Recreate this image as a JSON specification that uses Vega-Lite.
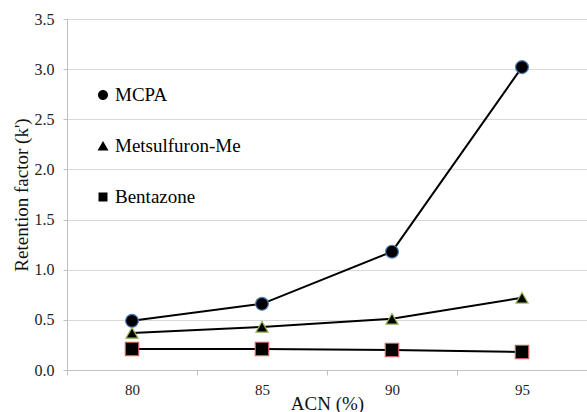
{
  "$schema": "https://vega.github.io/schema/vega-lite/v6.json",
  "width": 520,
  "height": 351,
  "autosize": {"type": "none"},
  "padding": {"left": 67, "top": 19, "right": 0, "bottom": 42},
  "background": "white",
  "config": {
    "view": {"stroke": null},
    "font": "'Times New Roman', 'Liberation Serif', serif"
  },
  "data": {
    "values": [
      {"acn": "80", "compound": "MCPA", "k": 0.49},
      {"acn": "85", "compound": "MCPA", "k": 0.66},
      {"acn": "90", "compound": "MCPA", "k": 1.18},
      {"acn": "95", "compound": "MCPA", "k": 3.02},
      {"acn": "80", "compound": "Metsulfuron-Me", "k": 0.37},
      {"acn": "85", "compound": "Metsulfuron-Me", "k": 0.43},
      {"acn": "90", "compound": "Metsulfuron-Me", "k": 0.51},
      {"acn": "95", "compound": "Metsulfuron-Me", "k": 0.72},
      {"acn": "80", "compound": "Bentazone", "k": 0.21},
      {"acn": "85", "compound": "Bentazone", "k": 0.21},
      {"acn": "90", "compound": "Bentazone", "k": 0.2},
      {"acn": "95", "compound": "Bentazone", "k": 0.18}
    ]
  },
  "encoding": {
    "x": {
      "field": "acn",
      "type": "ordinal",
      "scale": {"type": "band", "paddingInner": 0, "paddingOuter": 0},
      "axis": {
        "title": "ACN (%)",
        "labelAngle": 0,
        "tickBand": "extent",
        "grid": false,
        "domainColor": "#bfbfbf",
        "tickColor": "#bfbfbf",
        "tickSize": 5,
        "labelFontSize": 15,
        "labelColor": "#222222",
        "labelPadding": 7,
        "titleFontSize": 19,
        "titleFontWeight": "normal",
        "titleColor": "#111111",
        "titlePadding": -3
      }
    },
    "y": {
      "field": "k",
      "type": "quantitative",
      "scale": {"domain": [0, 3.5]},
      "axis": {
        "title": "Retention factor (k')",
        "values": [0, 0.5, 1, 1.5, 2, 2.5, 3, 3.5],
        "format": ".1f",
        "gridColor": "#d9d9d9",
        "domainColor": "#bfbfbf",
        "tickColor": "#bfbfbf",
        "tickSize": 4,
        "labelFontSize": 16,
        "labelColor": "#222222",
        "labelPadding": 9,
        "titleFontSize": 19,
        "titleFontWeight": "normal",
        "titleColor": "#111111",
        "titlePadding": 3
      }
    }
  },
  "layer": [
    {
      "mark": {"type": "line", "color": "black", "strokeWidth": 2},
      "encoding": {"detail": {"field": "compound"}}
    },
    {
      "mark": {"type": "point", "filled": true, "fill": "black", "strokeWidth": 1.2, "opacity": 1},
      "encoding": {
        "shape": {
          "field": "compound",
          "type": "nominal",
          "scale": {"range": ["square", "circle", "triangle-up"]},
          "legend": null
        },
        "stroke": {
          "field": "compound",
          "type": "nominal",
          "scale": {"range": ["#d0605d", "#4f81bd", "#9bbb59"]},
          "legend": null
        },
        "size": {
          "field": "compound",
          "type": "nominal",
          "scale": {"range": [180, 150, 240]},
          "legend": null
        }
      }
    },
    {
      "mark": {"type": "point", "filled": true, "fill": "black", "stroke": "black", "strokeWidth": 1.5, "opacity": 0, "size": 400},
      "encoding": {
        "shape": {
          "field": "compound",
          "type": "nominal",
          "scale": {
            "domain": ["MCPA", "Metsulfuron-Me", "Bentazone"],
            "range": [
              "M-1,0H1M0.5,0A0.5,0.5,0,1,1,-0.5,0A0.5,0.5,0,1,1,0.5,0Z",
              "M-1,0.2H1M0,-0.5L0.55,0.45L-0.55,0.45Z",
              "M-1,0H1M-0.45,-0.45H0.45V0.45H-0.45Z"
            ]
          },
          "legend": {
            "title": null,
            "orient": "none",
            "legendX": 25,
            "legendY": 65,
            "padding": 0,
            "rowPadding": 30,
            "symbolSize": 400,
            "symbolOpacity": 1,
            "symbolFillColor": "black",
            "symbolStrokeColor": "black",
            "symbolStrokeWidth": 1.5,
            "labelFontSize": 19,
            "labelFont": "'Times New Roman', 'Liberation Serif', serif",
            "labelColor": "#000000",
            "labelOffset": 1
          }
        }
      }
    }
  ],
  "resolve": {"scale": {"shape": "independent"}}
}
